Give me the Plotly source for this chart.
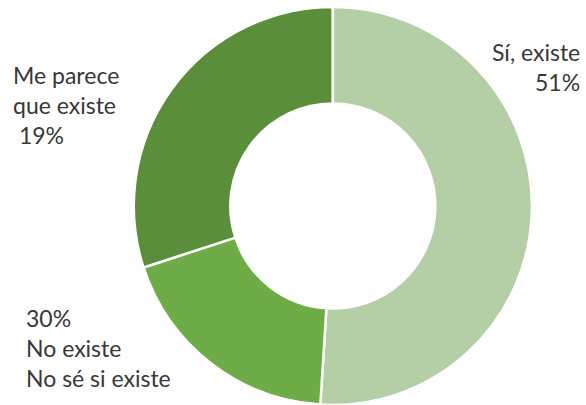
import plotly.graph_objects as go

# Survey answers (share of respondents, %)
categories = ["Sí, existe", "Me parece que existe", "No existe", "No sé si existe"]
values = [51, 19, 30, 0]
colors = ["#B4CEA6", "#6EAC47", "#5A8E3A", "#A9D18E"]

# Text blocks placed around the ring
label_blocks = [
    ["Sí, existe", "51%"],
    ["Me parece", "que existe", " 19%"],
    ["30%", "No existe", "No sé si existe"],
]
block_anchor = [
    dict(x=582, y=52, xanchor="right"),
    dict(x=11, y=75, xanchor="left"),
    dict(x=24, y=318, xanchor="left"),
]
LINE_STEP = 30
W, H = 586, 405

fig = go.Figure(
    go.Pie(
        labels=categories,
        values=values,
        hole=0.515,
        sort=False,
        direction="clockwise",
        rotation=0,
        textinfo="none",
        hoverinfo="label+percent",
        marker=dict(colors=colors, line=dict(color="white", width=2.5)),
        domain=dict(x=[0.136, 1.0], y=[0.0, 0.983]),
        showlegend=False,
    )
)

annotations = []
for lines, anc in zip(label_blocks, block_anchor):
    for i, line in enumerate(lines):
        annotations.append(
            dict(
                text=line.replace(" ", "&nbsp;") if line.startswith(" ") else line,
                x=anc["x"] / W,
                y=1 - (anc["y"] + i * LINE_STEP) / H,
                xref="paper",
                yref="paper",
                xanchor=anc["xanchor"],
                yanchor="middle",
                showarrow=False,
                font=dict(family="Lato, sans-serif", size=23, color="#383838"),
            )
        )

fig.update_layout(
    width=W,
    height=H,
    margin=dict(l=0, r=0, t=0, b=0),
    paper_bgcolor="white",
    plot_bgcolor="white",
    annotations=annotations,
)

fig.write_html("out.html")
